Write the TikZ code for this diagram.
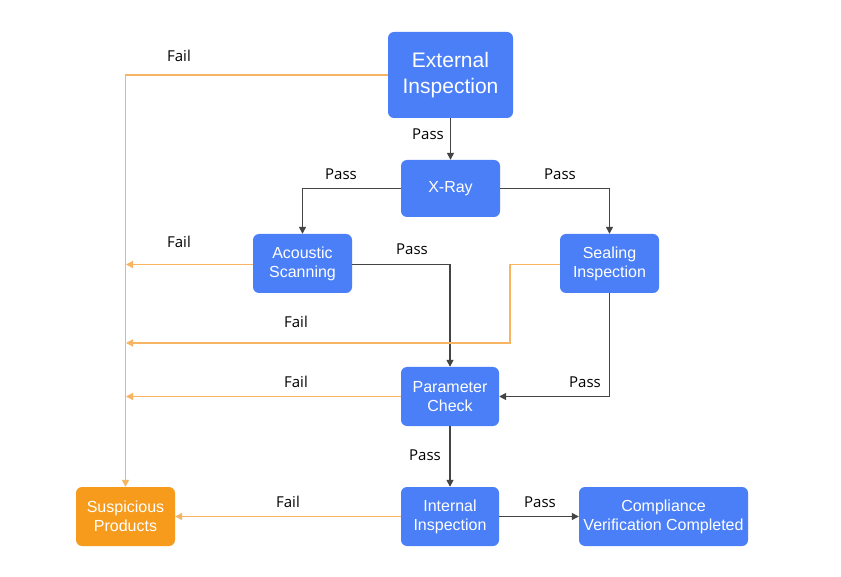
\documentclass[tikz,border=0pt]{standalone}
\usepackage{fontspec}
\setmainfont{Liberation Sans}
\newfontfamily\lblfont{Open Sans}
\usetikzlibrary{arrows.meta}
\definecolor{boxblue}{HTML}{4A7FF7}
\definecolor{boxorange}{HTML}{F69B1C}
\definecolor{failline}{HTML}{F7B463}
\definecolor{passline}{HTML}{444444}
\tikzset{
  box/.style={draw=none, fill=boxblue, rounded corners=6pt, text=white, align=center,
    font=\fontsize{16}{19}\selectfont, inner sep=0pt},
  pline/.style={draw=passline, line width=1.4pt, -{Triangle[length=7pt,width=7pt]}},
  fline/.style={draw=failline, line width=1.4pt, -{Triangle[length=7pt,width=7pt]}},
  lbl/.style={font=\lblfont\fontsize{15}{17}\selectfont, text=black, inner sep=0pt}
}
\begin{document}
\begin{tikzpicture}[x=1pt,y=-1pt]
\useasboundingbox (0,0) rectangle (841,577);
\fill[white] (0,0) rectangle (841,577);
% nodes
\node[box, minimum width=125pt, minimum height=86pt, font=\fontsize{21}{26}\selectfont] (ext) at (450.5,75) {External\\Inspection};
\node[box, minimum width=99pt, minimum height=57pt] (xray) at (450.5,188.5) {X-Ray};
\node[box, minimum width=99pt, minimum height=59pt] (acou) at (302.5,263.5) {Acoustic\\Scanning};
\node[box, minimum width=99pt, minimum height=59pt] (seal) at (609.5,263.5) {Sealing\\Inspection};
\node[box, minimum width=98pt, minimum height=59pt] (param) at (450,396.5) {Parameter\\Check};
\node[box, minimum width=98pt, minimum height=59pt] (intl) at (450,516.5) {Internal\\Inspection};
\node[box, minimum width=169pt, minimum height=59pt] (comp) at (663.5,516.5) {Compliance\\Verification Completed};
\node[box, fill=boxorange, minimum width=99pt, minimum height=59pt] (susp) at (125.5,516.5) {Suspicious\\Products};
% edges
\draw[fline] (ext.west) -| (susp.north);
\node[lbl] (l1) at (179,56) {Fail};
\draw[pline] (ext.south) -- (xray.north);
\node[lbl] (l2) at (428,134) {Pass};
\draw[pline] (xray.west) -| (acou.north);
\node[lbl] (l3) at (341,174) {Pass};
\draw[pline] (xray.east) -| (seal.north);
\node[lbl] (l4) at (560,174) {Pass};
\coordinate (a1) at (126,264.5);
\draw[fline] (acou.west |- a1) -- (a1);
\node[lbl] (l5) at (179,242) {Fail};
\draw[pline] (acou.east |- a1) -| (param.north);
\node[lbl] (l6) at (412,249) {Pass};
\coordinate (s1) at (510,264.5);
\coordinate (s2) at (510,343);
\coordinate (s3) at (126,343);
\draw[fline] (seal.west |- s1) -- (s1) -- (s2) -- (s3);
\node[lbl] (l7) at (296,322) {Fail};
\draw[pline] (seal.south) |- (param.east);
\node[lbl] (l8) at (585,382) {Pass};
\coordinate (p1) at (126,396.5);
\draw[fline] (param.west) -- (p1);
\node[lbl] (l9) at (296,382) {Fail};
\draw[pline] (param.south) -- (intl.north);
\node[lbl] (l10) at (425,455) {Pass};
\draw[fline] (intl.west) -- (susp.east);
\node[lbl] (l11) at (288,502) {Fail};
\draw[pline] (intl.east) -- (comp.west);
\node[lbl] (l12) at (540,502) {Pass};
\end{tikzpicture}
\end{document}
